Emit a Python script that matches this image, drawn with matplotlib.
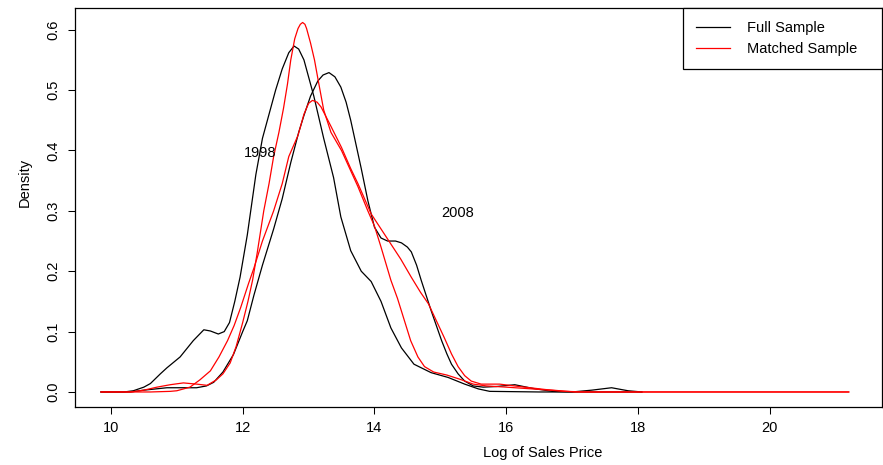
import matplotlib
matplotlib.use("Agg")
import matplotlib.pyplot as plt

plt.rcParams['font.family'] = ['Liberation Sans', 'DejaVu Sans']
plt.rcParams['font.size'] = 10.5

# density curves (log of sales price vs density)
full_1998_x = [9.85, 10.2, 10.34, 10.5, 10.6, 10.75, 10.85, 11.05, 11.25, 11.41, 11.51,
               11.63, 11.72, 11.8, 11.88, 11.96, 12.07, 12.2, 12.3, 12.4, 12.5, 12.6,
               12.7, 12.78, 12.85, 12.93, 13.08, 13.23, 13.38, 13.49, 13.64, 13.8,
               13.95, 14.1, 14.25, 14.41, 14.6, 14.86, 15.12, 15.37, 15.58, 15.75,
               16.5, 17.5, 18.06]
full_1998_y = [0.0, 0.0, 0.002, 0.008, 0.014, 0.03, 0.04, 0.058, 0.085, 0.103, 0.101,
               0.096, 0.1, 0.115, 0.15, 0.19, 0.26, 0.36, 0.42, 0.46, 0.5, 0.535,
               0.562, 0.573, 0.568, 0.55, 0.49, 0.42, 0.355, 0.29, 0.234, 0.2,
               0.183, 0.15, 0.106, 0.073, 0.046, 0.032, 0.024, 0.013, 0.005, 0.001,
               0.0, 0.0, 0.0]

full_2008_x = [9.85, 10.3, 10.5, 10.85, 11.1, 11.3, 11.45, 11.56, 11.7, 11.86, 12.0,
               12.07, 12.17, 12.3, 12.47, 12.6, 12.73, 12.85, 12.93, 13.03, 13.14,
               13.22, 13.31, 13.4, 13.49, 13.57, 13.64, 13.72, 13.8, 13.9, 14.0,
               14.1, 14.2, 14.32, 14.41, 14.5, 14.56, 14.64, 14.71, 14.8, 14.86,
               14.94, 15.02, 15.1, 15.17, 15.27, 15.37, 15.5, 15.65, 15.85, 16.13,
               16.4, 16.7, 17.0, 17.3, 17.6, 17.85, 18.06]
full_2008_y = [0.0, 0.0, 0.003, 0.007, 0.007, 0.007, 0.01, 0.016, 0.033, 0.062, 0.1,
               0.118, 0.16, 0.21, 0.27, 0.32, 0.38, 0.43, 0.458, 0.49, 0.515,
               0.525, 0.529, 0.522, 0.505, 0.48, 0.45, 0.41, 0.37, 0.317, 0.273,
               0.255, 0.25, 0.25, 0.247, 0.24, 0.232, 0.21, 0.185, 0.155, 0.135,
               0.11, 0.085, 0.063, 0.046, 0.03, 0.018, 0.01, 0.008, 0.009, 0.012,
               0.006, 0.001, 0.0, 0.003, 0.007, 0.002, 0.0]

matched_1998_x = [9.85, 10.3, 10.5, 10.7, 10.9, 11.1, 11.3, 11.46, 11.6, 11.7, 11.81,
                  11.9, 12.0, 12.08, 12.15, 12.22, 12.32, 12.4, 12.47, 12.55, 12.62,
                  12.68, 12.73, 12.79, 12.84, 12.875, 12.91, 12.945, 12.97, 13.03,
                  13.09, 13.14, 13.23, 13.34, 13.5, 13.75, 13.9, 14.0, 14.1, 14.25,
                  14.35, 14.45, 14.55, 14.66, 14.76, 14.9, 15.1, 15.3, 15.5, 15.7,
                  16.0, 16.4, 16.9, 17.2, 21.2]
matched_1998_y = [0.0, 0.0, 0.003, 0.008, 0.012, 0.015, 0.013, 0.011, 0.02, 0.03, 0.048,
                  0.075, 0.115, 0.15, 0.185, 0.23, 0.3, 0.345, 0.39, 0.43, 0.47,
                  0.51, 0.55, 0.585, 0.602, 0.609, 0.612, 0.609, 0.602, 0.578,
                  0.55, 0.52, 0.467, 0.43, 0.4, 0.34, 0.3, 0.275, 0.24, 0.185,
                  0.155, 0.12, 0.085, 0.058, 0.042, 0.033, 0.028, 0.021, 0.013, 0.01,
                  0.008, 0.005, 0.001, 0.0, 0.0]

matched_2008_x = [9.85, 10.6, 10.9, 11.0, 11.2, 11.35, 11.51, 11.64, 11.77, 11.87, 11.97,
                  12.09, 12.17, 12.3, 12.47, 12.6, 12.7, 12.84, 12.93, 13.0, 13.06,
                  13.13, 13.19, 13.34, 13.5, 13.64, 13.75, 13.85, 13.95, 14.1, 14.25,
                  14.4, 14.56, 14.7, 14.82, 14.94, 15.06, 15.17, 15.27, 15.37, 15.47,
                  15.62, 15.9, 16.2, 16.6, 17.04, 21.2]
matched_2008_y = [0.0, 0.0, 0.001, 0.002, 0.008, 0.02, 0.035, 0.058, 0.085, 0.11, 0.14,
                  0.18, 0.205, 0.25, 0.3, 0.345, 0.39, 0.425, 0.46, 0.478, 0.483,
                  0.48, 0.472, 0.44, 0.405, 0.37, 0.345, 0.32, 0.295, 0.27, 0.245,
                  0.22, 0.19, 0.165, 0.146, 0.118, 0.09, 0.063, 0.042, 0.027, 0.018,
                  0.013, 0.013, 0.009, 0.004, 0.0, 0.0]

x_ticks = [10, 12, 14, 16, 18, 20]
y_ticks = [0.0, 0.1, 0.2, 0.3, 0.4, 0.5, 0.6]
y_tick_labels = ['0.0', '0.1', '0.2', '0.3', '0.4', '0.5', '0.6']
legend_labels = ['Full Sample', 'Matched Sample']

W, H = 883, 465
ax_l, ax_r, ax_t, ax_b = 74.5, 882, 8, 407
fig = plt.figure(figsize=(W / 100, H / 100), dpi=100)
ax = fig.add_axes([ax_l / W, 1 - ax_b / H, (ax_r - ax_l) / W, (ax_b - ax_t) / H])

lw = 0.9
ax.plot(full_1998_x, full_1998_y, color='black', lw=lw, label=legend_labels[0])
ax.plot(full_2008_x, full_2008_y, color='black', lw=lw)
ax.plot(matched_1998_x, matched_1998_y, color='red', lw=lw, label=legend_labels[1])
ax.plot(matched_2008_x, matched_2008_y, color='red', lw=lw)

ax.text(12.27, 0.395, '1998', ha='center', va='center')
ax.text(15.27, 0.297, '2008', ha='center', va='center')

ax.set_xlim(9.447, 21.705)
ax.set_ylim(-0.0249, 0.636)
ax.set_xticks(x_ticks)
ax.set_yticks(y_ticks)
ax.set_yticklabels(y_tick_labels, rotation=90, va='center')
ax.tick_params(direction='out', length=5, width=0.75, pad=5)
for s in ax.spines.values():
    s.set_linewidth(0.9)

# legend box spans 683..882 px across the top right corner
leg_x0 = (683 - ax_l) / (ax_r - ax_l)
leg = ax.legend(loc='upper left', bbox_to_anchor=(leg_x0, 0, 1 - leg_x0, 1),
                mode='expand', borderaxespad=0,
                fancybox=False, edgecolor='black', framealpha=1,
                handlelength=2.3, handletextpad=1.2, borderpad=0.9,
                labelspacing=0.45)
leg.get_frame().set_linewidth(0.9)

fig.text(25 / W, 1 - 182 / H, 'Density', rotation=90, ha='center', va='center')
fig.text(543 / W, 1 - 453 / H, 'Log of Sales Price', ha='center', va='center')

fig.savefig('out.png', dpi=100)
